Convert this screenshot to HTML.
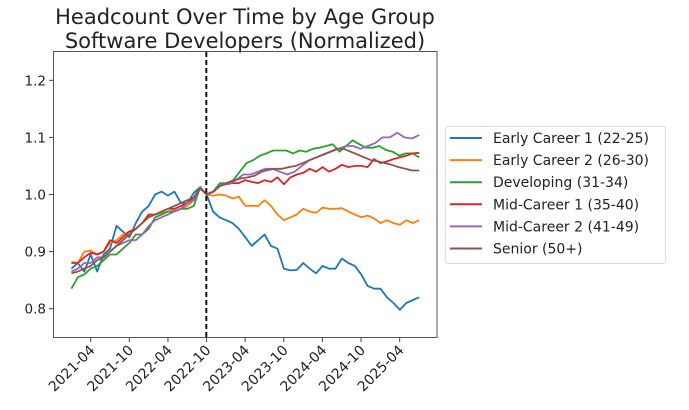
<!DOCTYPE html>
<html><head><style>
html,body{margin:0;padding:0;background:#fff;}
svg text{font-family:"DejaVu Sans","Liberation Sans",sans-serif;fill:#222;}
</style></head><body>
<svg id="s" width="689" height="405" xmlns="http://www.w3.org/2000/svg">
<rect width="689" height="405" fill="#fff"/>
<text x="245" y="24" font-size="21" text-anchor="middle">Headcount Over Time by Age Group</text>
<text x="245" y="48" font-size="21" text-anchor="middle">Software Developers (Normalized)</text>
<rect x="53.5" y="51.5" width="383.5" height="286" fill="none" stroke="#555" stroke-width="1"/>
<g id="yt" font-size="13.5"></g>
<g id="xt" font-size="14"></g>
<g id="lines" fill="none" stroke-width="1.8" stroke-linejoin="round"></g>
<line x1="206.3" y1="52" x2="206.3" y2="337" stroke="#111" stroke-width="2" stroke-dasharray="5,3"/>
<rect x="445.5" y="126.5" width="220" height="137" rx="3" fill="#fff" stroke="#ddd"/>
<g id="leg" font-size="14"></g>
</svg>
<script>
var NS="http://www.w3.org/2000/svg";
function el(t,a,p,txt){var e=document.createElementNS(NS,t);for(var k in a)e.setAttribute(k,a[k]);if(txt)e.textContent=txt;p.appendChild(e);return e;}
function Y(v){return 194.5-(v-1)*571;}
function X(i){return 71.4+6.44*i;}
var yt=document.getElementById('yt');
[0.8,0.9,1.0,1.1,1.2].forEach(function(v){var y=Y(v);el('line',{x1:49,x2:53.5,y1:y,y2:y,stroke:'#444'},yt);el('text',{x:46,y:y+5,'text-anchor':'end'},yt,v.toFixed(1));});
var xt=document.getElementById('xt');
['2021-04','2021-10','2022-04','2022-10','2023-04','2023-10','2024-04','2024-10','2025-04'].forEach(function(l,k){var x=90.7+38.62*k;el('line',{x1:x,x2:x,y1:337.5,y2:342,stroke:'#444'},xt);el('text',{x:x+5,y:351,'text-anchor':'end',transform:'rotate(-45 '+(x+5)+' 351)'},xt,l);});
var D=[
['#1f77b4','Early Career 1 (22-25)',[.87,.88,.865,.895,.865,.895,.905,.945,.935,.925,.95,.97,.98,1.0,1.005,.998,1.005,.985,.985,1.003,1.013,1.0,.97,.96,.955,.95,.94,.925,.91,.92,.93,.91,.905,.87,.867,.868,.88,.87,.862,.875,.87,.87,.888,.88,.875,.86,.84,.835,.835,.82,.81,.798,.81,.815,.82]],
['#ff7f0e','Early Career 2 (26-30)',[.882,.88,.9,.902,.895,.9,.915,.92,.93,.935,.94,.95,.962,.965,.968,.97,.972,.975,.98,.99,1.012,1.0,.998,1.0,.998,.993,.996,.98,.98,.98,.99,.98,.965,.955,.96,.965,.975,.97,.968,.977,.975,.975,.976,.97,.965,.96,.963,.958,.95,.955,.95,.947,.955,.95,.955]],
['#2ca02c','Developing (31-34)',[.835,.855,.86,.87,.875,.885,.895,.895,.905,.915,.93,.93,.94,.96,.965,.97,.97,.975,.975,.98,1.013,1.0,1.005,1.02,1.02,1.025,1.04,1.055,1.06,1.068,1.072,1.077,1.077,1.077,1.072,1.077,1.075,1.08,1.082,1.085,1.088,1.075,1.085,1.095,1.088,1.082,1.082,1.085,1.078,1.075,1.068,1.072,1.072,1.065]],
['#d62728','Mid-Career 1 (35-40)',[.88,.88,.89,.898,.895,.9,.92,.915,.925,.935,.94,.95,.965,.965,.97,.975,.975,.98,.985,.995,1.012,1.0,1.005,1.015,1.018,1.02,1.02,1.025,1.022,1.02,1.025,1.022,1.03,1.018,1.03,1.035,1.038,1.045,1.04,1.048,1.04,1.045,1.052,1.048,1.05,1.05,1.048,1.062,1.055,1.058,1.062,1.065,1.068,1.072,1.073]],
['#9467bd','Mid-Career 2 (41-49)',[.865,.87,.88,.88,.89,.89,.9,.91,.915,.92,.92,.93,.945,.955,.96,.965,.97,.975,.985,.99,1.012,1.0,1.005,1.018,1.018,1.025,1.035,1.035,1.04,1.045,1.045,1.04,1.035,1.04,1.05,1.06,1.065,1.07,1.075,1.08,1.085,1.085,1.08,1.085,1.09,1.1,1.1,1.108,1.1,1.098,1.104]],
['#8c564b','Senior (50+)',[.862,.865,.87,.875,.885,.89,.9,.91,.92,.93,.94,.95,.96,.965,.97,.975,.98,.985,.99,.995,1.01,1.0,1.005,1.015,1.02,1.025,1.028,1.03,1.033,1.04,1.043,1.045,1.045,1.048,1.05,1.055,1.06,1.065,1.07,1.075,1.08,1.08,1.075,1.07,1.065,1.06,1.058,1.055,1.052,1.048,1.045,1.042,1.042]]
];
var g=document.getElementById('lines'),lg=document.getElementById('leg');
D.forEach(function(d,k){var v=d[2],n=v.length,p=[];for(var j=0;j<n;j++){var i;if(j<=21)i=j;else i=21+(j-21)*(54-21)/(n-1-21);p.push(X(i).toFixed(1)+','+Y(v[j]).toFixed(1));}
el('polyline',{points:p.join(' '),stroke:d[0]},g);
var y=138+22.1*k;el('line',{x1:450,x2:482,y1:y,y2:y,stroke:d[0],'stroke-width':2},lg);el('text',{x:493,y:y+5},lg,d[1]);});
</script>
</body></html>
